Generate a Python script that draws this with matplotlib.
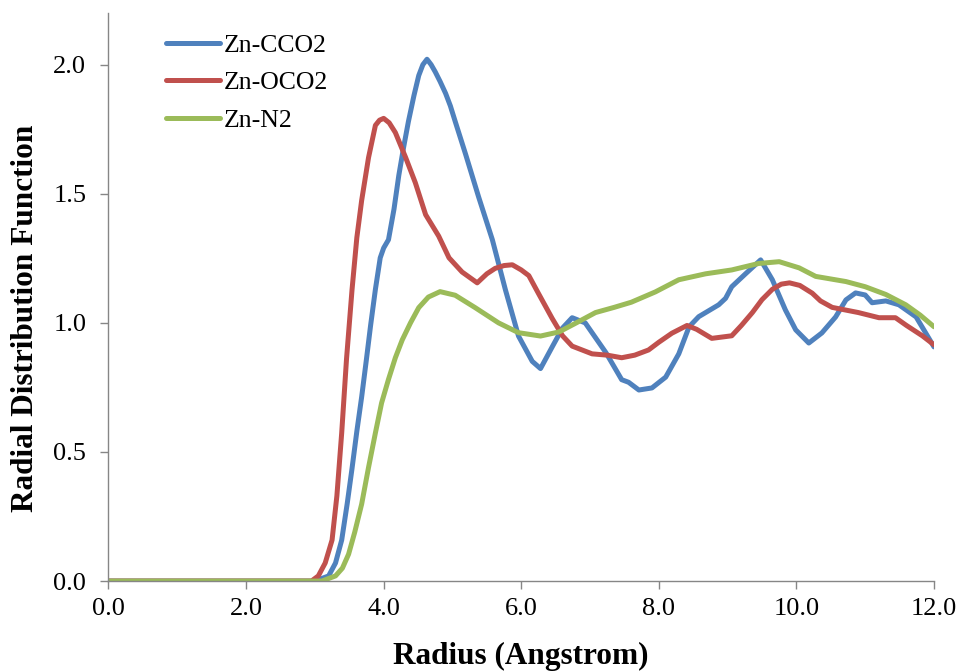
import matplotlib
matplotlib.use("Agg")
import matplotlib.pyplot as plt

# Radial distribution functions g(r) around Zn
r_cco2 = [0.0, 3.0, 3.2, 3.3, 3.39, 3.47, 3.54, 3.61, 3.68, 3.75, 3.81, 3.88, 3.95, 4.0,
          4.07, 4.15, 4.22, 4.29, 4.36, 4.44, 4.51, 4.57, 4.63, 4.69, 4.75, 4.82, 4.9,
          4.97, 5.04, 5.19, 5.38, 5.58, 5.77, 5.96, 6.16, 6.28, 6.45, 6.6, 6.74, 6.93,
          7.23, 7.46, 7.56, 7.71, 7.9, 8.1, 8.29, 8.44, 8.58, 8.87, 8.97, 9.06, 9.26,
          9.48, 9.65, 9.84, 9.99, 10.18, 10.37, 10.57, 10.72, 10.86, 11.0, 11.1, 11.3,
          11.49, 11.74, 12.0]
g_cco2 = [0.0, 0.0, 0.02, 0.07, 0.159, 0.3, 0.436, 0.58, 0.713, 0.86, 0.99, 1.13, 1.252,
          1.29, 1.322, 1.44, 1.571, 1.68, 1.78, 1.88, 1.958, 2.0, 2.021, 2.0, 1.972,
          1.935, 1.889, 1.84, 1.78, 1.654, 1.488, 1.322, 1.128, 0.949, 0.851, 0.823,
          0.907, 0.98, 1.02, 1.0, 0.885, 0.78, 0.77, 0.74, 0.748, 0.79, 0.88, 0.985,
          1.024, 1.07, 1.095, 1.14, 1.19, 1.244, 1.167, 1.05, 0.973, 0.922, 0.961,
          1.023, 1.089, 1.116, 1.108, 1.078, 1.085, 1.07, 1.023, 0.907]

r_oco2 = [0.0, 2.95, 3.05, 3.15, 3.25, 3.32, 3.39, 3.46, 3.54, 3.61, 3.68, 3.78, 3.88,
          3.94, 4.0, 4.08, 4.17, 4.32, 4.46, 4.61, 4.8, 4.95, 5.14, 5.36, 5.5, 5.62,
          5.75, 5.87, 6.0, 6.11, 6.25, 6.45, 6.6, 6.74, 7.03, 7.25, 7.46, 7.65, 7.85,
          8.0, 8.19, 8.41, 8.55, 8.77, 9.06, 9.2, 9.36, 9.5, 9.65, 9.78, 9.9, 10.05,
          10.23, 10.35, 10.52, 10.9, 11.2, 11.44, 11.6, 11.83, 12.0]
g_oco2 = [0.0, 0.0, 0.02, 0.07, 0.159, 0.33, 0.574, 0.86, 1.128, 1.33, 1.474, 1.64,
          1.765, 1.785, 1.792, 1.775, 1.737, 1.64, 1.543, 1.419, 1.336, 1.252, 1.197,
          1.155, 1.19, 1.211, 1.222, 1.225, 1.205, 1.183, 1.114, 1.017, 0.95, 0.91,
          0.88, 0.875, 0.865, 0.875, 0.895, 0.925, 0.96, 0.99, 0.975, 0.94, 0.95, 0.99,
          1.04, 1.09, 1.13, 1.15, 1.155, 1.145, 1.115, 1.085, 1.06, 1.04, 1.02, 1.02,
          0.99, 0.95, 0.915]

r_n2 = [0.0, 3.1, 3.3, 3.4, 3.49, 3.58, 3.68, 3.78, 3.88, 3.97, 4.07, 4.17, 4.27, 4.39,
        4.51, 4.65, 4.82, 5.04, 5.33, 5.67, 5.96, 6.28, 6.55, 6.8, 7.08, 7.35, 7.6,
        7.95, 8.29, 8.68, 9.06, 9.45, 9.75, 10.04, 10.28, 10.72, 11.0, 11.3, 11.59,
        11.8, 12.0]
g_n2 = [0.0, 0.0, 0.02, 0.05, 0.104, 0.19, 0.298, 0.44, 0.574, 0.69, 0.781, 0.865,
        0.934, 1.0, 1.059, 1.1, 1.121, 1.107, 1.059, 1.0, 0.962, 0.949, 0.965, 1.0,
        1.04, 1.06, 1.08, 1.12, 1.167, 1.19, 1.205, 1.23, 1.237, 1.213, 1.18, 1.16,
        1.14, 1.11, 1.07, 1.03, 0.985]

series = [
    ("Zn-CCO2", r_cco2, g_cco2, "#4F81BD"),
    ("Zn-OCO2", r_oco2, g_oco2, "#C0504D"),
    ("Zn-N2", r_n2, g_n2, "#9BBB59"),
]

x_ticks = [0, 2, 4, 6, 8, 10, 12]
y_ticks = [0.0, 0.5, 1.0, 1.5, 2.0]

plt.rcParams["font.family"] = ["Liberation Serif", "DejaVu Serif"]

fig = plt.figure(figsize=(9.61, 6.71), dpi=100)
ax = fig.add_axes([0.1129, 0.134, 0.859, 0.8466])

for name, r, g, color in series:
    ax.plot(r, g, color=color, lw=3.6, label=name, solid_capstyle="round",
            solid_joinstyle="round")

ax.set_xlim(0, 12)
ax.set_ylim(0, 2.2)
ax.set_xticks(x_ticks)
ax.set_xticklabels([f"{v:.1f}" for v in x_ticks])
ax.set_yticks(y_ticks)
ax.set_yticklabels([f"{v:.1f}" for v in y_ticks])

for side in ("top", "right"):
    ax.spines[side].set_visible(False)
for side in ("left", "bottom"):
    ax.spines[side].set_color("#868686")
    ax.spines[side].set_linewidth(1.0)

ax.tick_params(axis="both", direction="out", length=6, width=1.0, color="#868686",
               labelsize=19, labelcolor="black")
ax.tick_params(axis="x", pad=6.5)
ax.tick_params(axis="y", pad=10)

ax.set_xlabel("Radius (Angstrom)", fontsize=22.5, fontweight="bold", va="center")
ax.xaxis.set_label_coords(0.5, -0.133)
ax.set_ylabel("Radial Distribution Function", fontsize=22.5, fontweight="bold",
              va="center")
ax.yaxis.set_label_coords(-0.1, 0.463)

ax.legend(loc="upper left", bbox_to_anchor=(0.0575, 0.982), frameon=False,
          fontsize=18.5, handlelength=2.1, handletextpad=0.15, labelspacing=0.58,
          borderaxespad=0)

fig.savefig("out.png", dpi=100)
